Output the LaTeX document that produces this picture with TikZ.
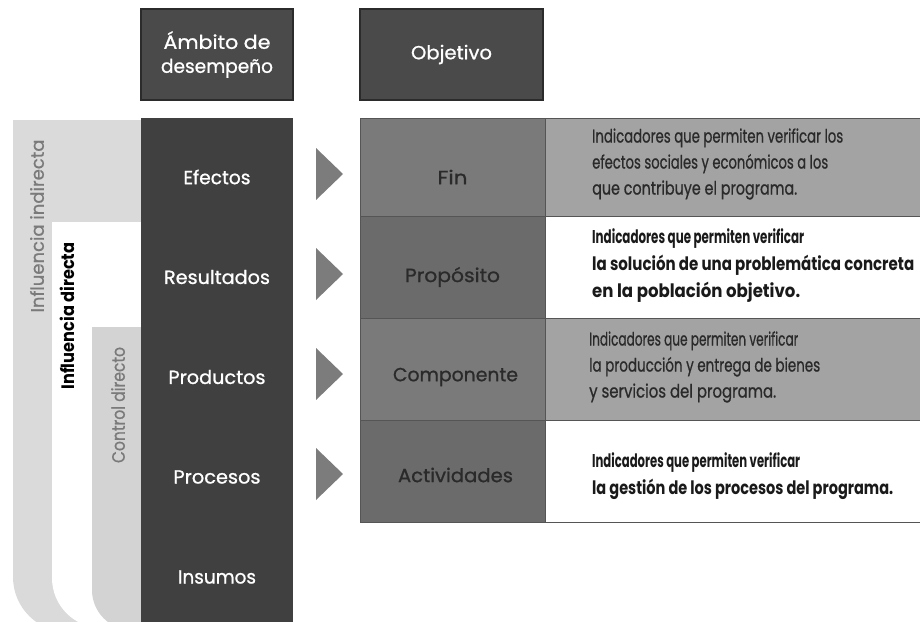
\documentclass[tikz,border=0pt]{standalone}
\usepackage{fontspec}
\usepackage{graphicx}
\setmainfont{Poppins}[UprightFeatures={FakeBold=0.9}]
\definecolor{colD}{HTML}{404040}
\definecolor{hdr}{HTML}{4A4A4A}
\definecolor{hdrline}{HTML}{2B2B2B}
\definecolor{bandg}{HTML}{DADADA}
\definecolor{ctrlg}{HTML}{D3D3D3}
\definecolor{bandtxt}{HTML}{7A7A7A}
\definecolor{cellL}{HTML}{7A7A7A}
\definecolor{cellLd}{HTML}{6B6B6B}
\definecolor{cellR}{HTML}{A3A3A3}
\definecolor{cellline}{HTML}{555555}
\definecolor{triC}{HTML}{7C7C7C}
\definecolor{txtD}{HTML}{2A2A2A}
\definecolor{txtB}{HTML}{1A1A1A}
\newcommand{\fw}[2]{\resizebox{#1pt}{\height}{#2}}
\tikzset{
  hdrbox/.style={fill=hdr, draw=hdrline, line width=1.5pt, text=white, align=center,
    font=\fontsize{19}{24}\selectfont, inner sep=0pt},
  colbox/.style={fill=colD, draw=none, inner sep=0pt},
  collab/.style={text=white, font=\fontsize{19}{23}\selectfont, inner sep=0pt},
  cellbox/.style={draw=cellline, line width=0.8pt, inner sep=0pt},
  celllab/.style={text=txtD, font=\fontsize{19}{23}\selectfont, inner sep=0pt},
  desctxt/.style={text=txtD, align=left, anchor=west, inner sep=0pt,
    font=\fontsize{18.5}{26}\selectfont},
  descbold/.style={text=txtB, align=left, anchor=west, inner sep=0pt,
    font=\fontsize{18.5}{27}\selectfont\bfseries},
  bandlab/.style={rotate=90, inner sep=0pt, font=\fontsize{18}{20}\selectfont},
  tri/.style={fill=triC}
}
\begin{document}
\begin{tikzpicture}[x=1pt,y=-1pt]
\useasboundingbox (0,0) rectangle (920,621);
\clip (0,0) rectangle (920,621);
% left bands
\fill[bandg] (141,120) -- (13,120) -- (13,577) .. controls (13,607.4) and (37.6,632) .. (68,632) -- (141,632) -- cycle;
\fill[white] (141,222) -- (52,222) -- (52,578) .. controls (52,605.6) and (74.4,628) .. (102,628) -- (141,628) -- cycle;
\fill[ctrlg] (141,327) -- (92,327) -- (92,590) .. controls (92,612.1) and (109.9,630) .. (132,630) -- (141,630) -- cycle;
\node[bandlab, text=bandtxt] (infind) at (37,226) {\fw{173}{Influencia indirecta}};
\node[bandlab, text=black, font=\fontsize{18}{20}\selectfont\bfseries] (infdir) at (67,316) {\fw{147}{Influencia directa}};
\node[bandlab, text=bandtxt] (ctrl) at (118,405) {\fw{116}{Control directo}};
% header boxes
\node[hdrbox, minimum width=152, minimum height=91] (amb) at (217,54.5) {\fw{107}{Ámbito de}\\\fw{112}{desempeño}};
\node[hdrbox, minimum width=183, minimum height=91] (obj) at (451.5,54.5) {\fw{81}{Objetivo}};
% dark column
\node[colbox, minimum width=152, minimum height=520, anchor=north] (col) at (217,118) {};
\node[collab] (efe) at (217,177) {\fw{67}{Efectos}};
\node[collab] (res) at (217,277) {\fw{106}{Resultados}};
\node[collab] (pro) at (217,377) {\fw{97}{Productos}};
\node[collab] (prc) at (217,477) {\fw{87}{Procesos}};
\node[collab] (ins) at (217,577) {\fw{78}{Insumos}};
% triangles
\foreach \c in {174,274,374,474}{
  \fill[tri] (316,\c-26) -- (343,\c) -- (316,\c+26) -- cycle;
}
% table cells
\node[cellbox, fill=cellL, minimum width=185, minimum height=98] (l1) at (452.5,167) {};
\node[cellbox, fill=cellR, minimum width=375, minimum height=98] (r1) at (732.5,167) {};
\node[cellbox, fill=cellLd, minimum width=185, minimum height=102] (l2) at (452.5,267) {};
\node[cellbox, fill=white, minimum width=375, minimum height=102] (r2) at (732.5,267) {};
\node[cellbox, fill=cellL, minimum width=185, minimum height=102] (l3) at (452.5,369) {};
\node[cellbox, fill=cellR, minimum width=375, minimum height=102] (r3) at (732.5,369) {};
\node[cellbox, fill=cellLd, minimum width=185, minimum height=102] (l4) at (452.5,471) {};
\node[cellbox, fill=white, minimum width=375, minimum height=102] (r4) at (732.5,471) {};
% left cell labels
\node[celllab] (fin) at (452.5,177) {\fw{30}{Fin}};
\node[celllab] (prop) at (452.5,277) {\fw{95}{Propósito}};
\node[celllab] (comp) at (455.5,377) {\fw{125}{Componente}};
\node[celllab] (act) at (455.5,475) {\fw{115}{Actividades}};
% descriptions
\node[desctxt] (d1) at (592,164) {\fw{251}{Indicadores que permiten verificar los}\\\fw{236}{efectos sociales y económicos a los}\\\fw{205}{que contribuye el programa.}};
\node[descbold] (d2) at (592,266) {\fw{212}{Indicadores que permiten verificar}\\\fw{322}{la solución de una problemática concreta}\\\fw{208}{en la población objetivo.}};
\node[desctxt] (d3) at (589,367) {\fw{209}{Indicadores que permiten verificar}\\\fw{231}{la producción y entrega de bienes}\\\fw{187}{y servicios del programa.}};
\node[descbold] (d4) at (592,476) {\fw{208}{Indicadores que permiten verificar}\\\fw{301}{la gestión de los procesos del programa.}};
\end{tikzpicture}
\end{document}
